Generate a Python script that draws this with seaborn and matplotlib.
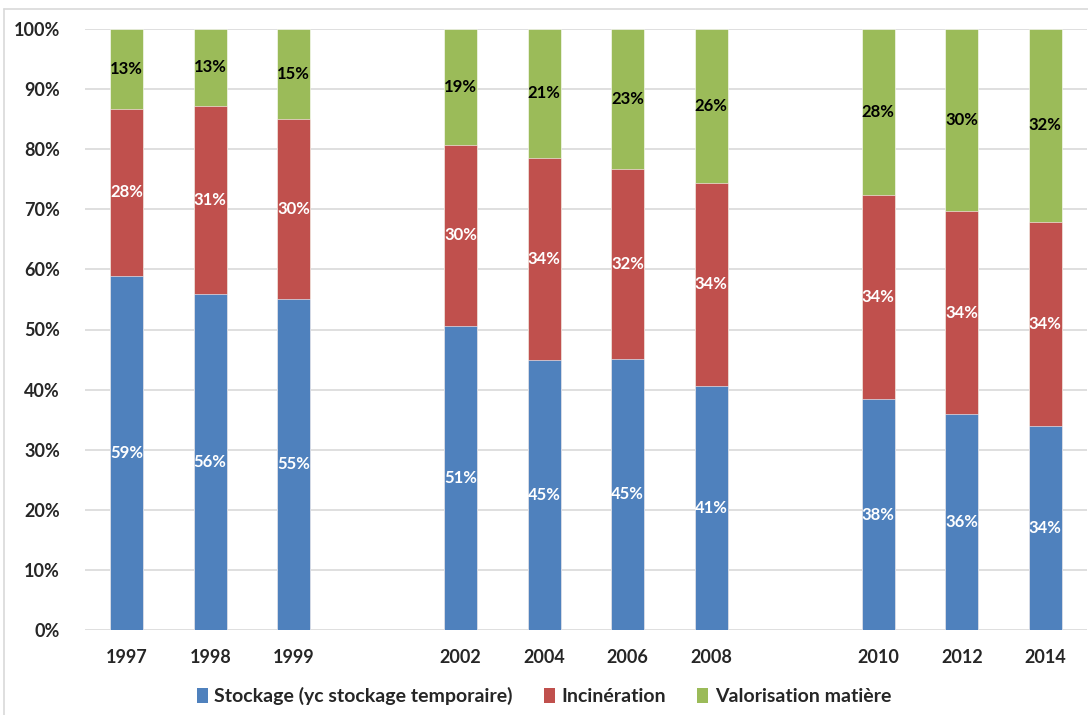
import pandas as pd
import matplotlib
matplotlib.use('Agg')
import matplotlib.pyplot as plt
import seaborn as sns
from matplotlib.patches import Patch
from matplotlib.lines import Line2D

# Données (parts en %)
annees = ['1997', '1998', '1999', '2002', '2004', '2006', '2008', '2010', '2012', '2014']
stockage = [58.9, 55.9, 55.1, 50.6, 45.0, 45.1, 40.6, 38.4, 35.9, 33.9]
incineration = [27.8, 31.3, 29.9, 30.1, 33.6, 31.6, 33.8, 34.0, 33.8, 34.0]
valorisation = [13.3, 12.8, 15.0, 19.3, 21.4, 23.3, 25.6, 27.6, 30.3, 32.1]
series = ['Stockage (yc stockage temporaire)', 'Incinération', 'Valorisation matière']
couleurs = ['#4F81BD', '#C0504D', '#9BBB59']
couleurs_texte = ['white', 'white', 'black']

# ordre avec des catégories vides pour les trous entre les périodes
ordre = ['1997', '1998', '1999', ' ', '2002', '2004', '2006', '2008', '  ', '2010', '2012', '2014']

df = pd.DataFrame({'annee': annees, 'stockage': stockage,
                   'incineration': incineration, 'valorisation': valorisation})
df['cum1'] = df['stockage']
df['cum2'] = df['stockage'] + df['incineration']
df['cum3'] = df['cum2'] + df['valorisation']

sns.set_style('white')
plt.rcParams['font.family'] = ['Lato', 'DejaVu Sans']
plt.rcParams['font.weight'] = 'bold'

fig = plt.figure(figsize=(10.88, 7.15), dpi=100)
ax = fig.add_axes([85 / 1088, 1 - 630 / 715, 1002 / 1088, 601 / 715])

# barres empilées : on dessine les cumuls du plus grand au plus petit
for col, c in zip(['cum3', 'cum2', 'cum1'], couleurs[::-1]):
    sns.barplot(data=df, x='annee', y=col, order=ordre, color=c, width=0.4,
                saturation=1, ax=ax, edgecolor='white', linewidth=0.4)

# étiquettes au centre de chaque segment
for i, row in df.iterrows():
    x = ordre.index(row['annee'])
    bas = 0
    for k, col in enumerate(['stockage', 'incineration', 'valorisation']):
        v = row[col]
        ax.text(x, bas + v / 2, f'{round(v)}%', ha='center', va='center',
                color=couleurs_texte[k], fontsize=12, fontweight='bold')
        bas += v

ax.set_ylim(0, 100)
ax.set_xlim(-0.5, len(ordre) - 0.5)
ax.set_yticks(range(0, 101, 10))
ax.set_yticklabels([f'{t}%' for t in range(0, 101, 10)], fontsize=13, fontweight='bold')
ax.tick_params(axis='x', labelsize=13, length=0, pad=14)
ax.tick_params(axis='y', length=0, pad=18)
for lab in ax.get_xticklabels():
    lab.set_fontweight('bold')
ax.set_xlabel('')
ax.set_ylabel('')
ax.yaxis.grid(True, color='#d9d9d9', linewidth=1.2)
ax.set_axisbelow(True)
for s in ax.spines.values():
    s.set_visible(False)

handles = [Patch(facecolor=c, edgecolor='none') for c in couleurs]
fig.legend(handles, series, loc='center', bbox_to_anchor=(0.5, 1 - 696 / 715), ncol=3,
           frameon=False, handlelength=0.55, handleheight=0.8,
           handletextpad=0.35, columnspacing=1.6, prop={'weight': 'bold', 'size': 14})

# cadre du graphique (type Excel)
fig.add_artist(Line2D([4 / 1088, 1], [1 - 9 / 715, 1 - 9 / 715], color='#d9d9d9', lw=1.2))
fig.add_artist(Line2D([4 / 1088, 4 / 1088], [0, 1 - 9 / 715], color='#d9d9d9', lw=1.2))

fig.savefig('out.png', dpi=100)
